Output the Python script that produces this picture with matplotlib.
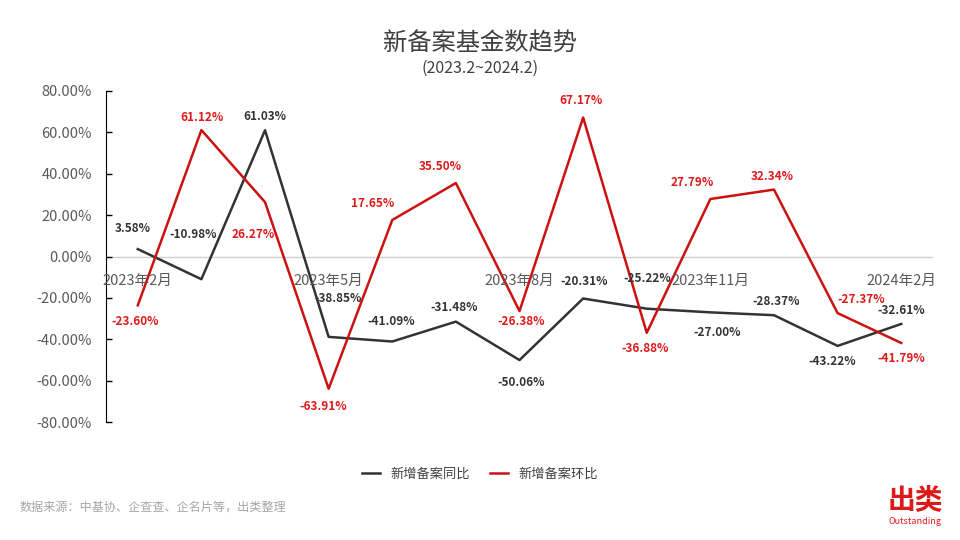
"""新备案基金数趋势 line chart."""
import matplotlib
matplotlib.use("Agg")
import matplotlib.pyplot as plt

plt.rcParams["font.family"] = ["Noto Sans CJK SC", "DejaVu Sans"]
plt.rcParams["axes.unicode_minus"] = False

months = ["2023年2月", "2023年3月", "2023年4月", "2023年5月", "2023年6月",
          "2023年7月", "2023年8月", "2023年9月", "2023年10月", "2023年11月",
          "2023年12月", "2024年1月", "2024年2月"]
yoy = [3.58, -10.98, 61.03, -38.85, -41.09, -31.48, -50.06, -20.31,
       -25.22, -27.00, -28.37, -43.22, -32.61]
mom = [-23.60, 61.12, 26.27, -63.91, 17.65, 35.50, -26.38, 67.17,
       -36.88, 27.79, 32.34, -27.37, -41.79]
yticks = [-80, -60, -40, -20, 0, 20, 40, 60, 80]
shown_ticks = [0, 3, 6, 9, 12]

# label offsets in pixels (dx, dy)
yoy_off = [(-5, 21), (-8, 45), (0, 14), (9, 38), (-1, 20), (-2, 14), (2, -22),
           (1, 17), (1, 30), (7, -20), (2, 14), (-5, -16), (0, 13)]
mom_off = [(-3, -16), (1, 13), (-12, -32), (-5, -18), (-20, 16), (-16, 17),
           (2, -10), (-2, 17), (-2, -16), (-18, 17), (-2, 13), (24, 14), (0, -16)]

DARK = "#333333"
RED = "#cc1111"
LABEL_RED = "#dd1a1a"

fig = plt.figure(figsize=(9.6, 5.4), dpi=100)
fig.patch.set_facecolor("white")
ax = fig.add_axes([0.1104, 0.2185, 0.8615, 0.613])

x = list(range(len(months)))
ax.plot(x, yoy, color=DARK, lw=1.8, label="新增备案同比")
ax.plot(x, mom, color=RED, lw=1.8, label="新增备案环比")

for i, v in enumerate(yoy):
    ax.annotate(f"{v:.2f}%", (i, v), xytext=yoy_off[i], textcoords="offset pixels",
                ha="center", va="center", fontsize=8.5, fontweight="bold",
                color=DARK)
for i, v in enumerate(mom):
    ax.annotate(f"{v:.2f}%", (i, v), xytext=mom_off[i], textcoords="offset pixels",
                ha="center", va="center", fontsize=8.5, fontweight="bold",
                color=LABEL_RED)

ax.set_xlim(-0.5, len(months) - 0.5)
ax.set_ylim(-80, 80)
ax.axhline(0, color="#d0d0d0", lw=1, zorder=0)

ax.set_yticks(yticks)
ax.set_yticklabels([f"{t:.2f}%" for t in yticks])
ax.tick_params(axis="y", direction="in", length=4, width=1, pad=10,
               labelsize=10.5, labelcolor="#595959", color="black")
ax.set_xticks([])
for i in shown_ticks:
    ax.annotate(months[i], (i, 0), xytext=(0, -24), textcoords="offset pixels",
                ha="center", va="center", fontsize=10.5, color="#595959")

for side in ["top", "right", "bottom"]:
    ax.spines[side].set_visible(False)
ax.spines["left"].set_color("black")

fig.text(0.5, 1 - 44 / 540, "新备案基金数趋势", ha="center", va="center",
         fontsize=17.5, color="#404040")
fig.text(0.5, 1 - 68 / 540, "(2023.2~2024.2)", ha="center", va="center",
         fontsize=11.5, color="#404040")

fig.legend(loc="center", bbox_to_anchor=(0.5, 1 - 474 / 540), ncol=2,
           frameon=False, fontsize=9.5, handlelength=1.4, columnspacing=1.5,
           labelcolor="#404040")

fig.text(20 / 960, 1 - 507 / 540, "数据来源：中基协、企查查、企名片等，出类整理",
         ha="left", va="center", fontsize=8.7, color="#a6a6a6")
fig.text(915 / 960, 1 - 500 / 540, "出类", ha="center", va="center",
         fontsize=20, fontweight="bold", color="#dd1a1a")
fig.text(915 / 960, 1 - 521 / 540, "Outstanding", ha="center", va="center",
         fontsize=6.5, color="#dd1a1a")

fig.savefig("out.png", dpi=100, facecolor="white")
